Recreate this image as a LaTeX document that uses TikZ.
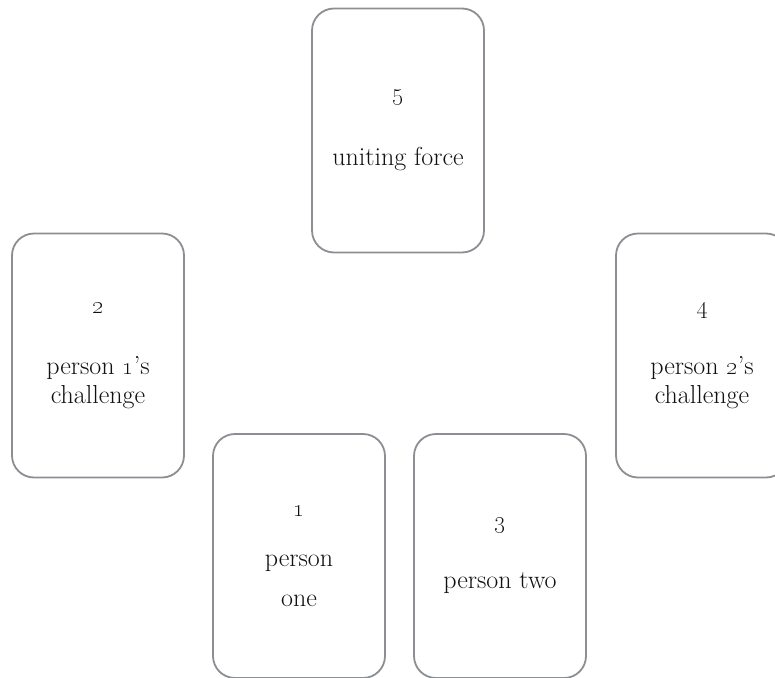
\documentclass[tikz,border=0pt]{standalone}
\usepackage{tikz}
\usetikzlibrary{positioning}
\usepackage{xcolor}
\definecolor{cEdge}{HTML}{8B8E92}
\definecolor{cText}{HTML}{111111}

\begin{document}
\begin{tikzpicture}[
  x=1pt, y=-1pt,
  card/.style={draw=cEdge, fill=white, rounded corners=22pt,
    minimum width=172pt, minimum height=244pt,
    font=\fontsize{26}{29}\selectfont, text=cText, line width=1.8pt,
    align=center, inner sep=4pt}
]
  \clip (0,0) rectangle (775,677);

  \node[card] (five) at (398,130.5) {%
    \oldstylenums{5}\\[36pt]
    uniting force%
  };

  \node[card] (two) at (98,355.5) {%
    \oldstylenums{2}\\[32pt]
    person \oldstylenums{1}'s\\
    challenge%
  };

  \node[card] (four) at (702,355.5) {%
    \oldstylenums{4}\\[32pt]
    person \oldstylenums{2}'s\\
    challenge%
  };

  \node[card] (one) at (299,556) {%
    \oldstylenums{1}\\[21pt]
    person\\[11pt]
    one%
  };

  \node[card] (three) at (500,556) {%
    \oldstylenums{3}\\[31pt]
    person two%
  };

\end{tikzpicture}
\end{document}
